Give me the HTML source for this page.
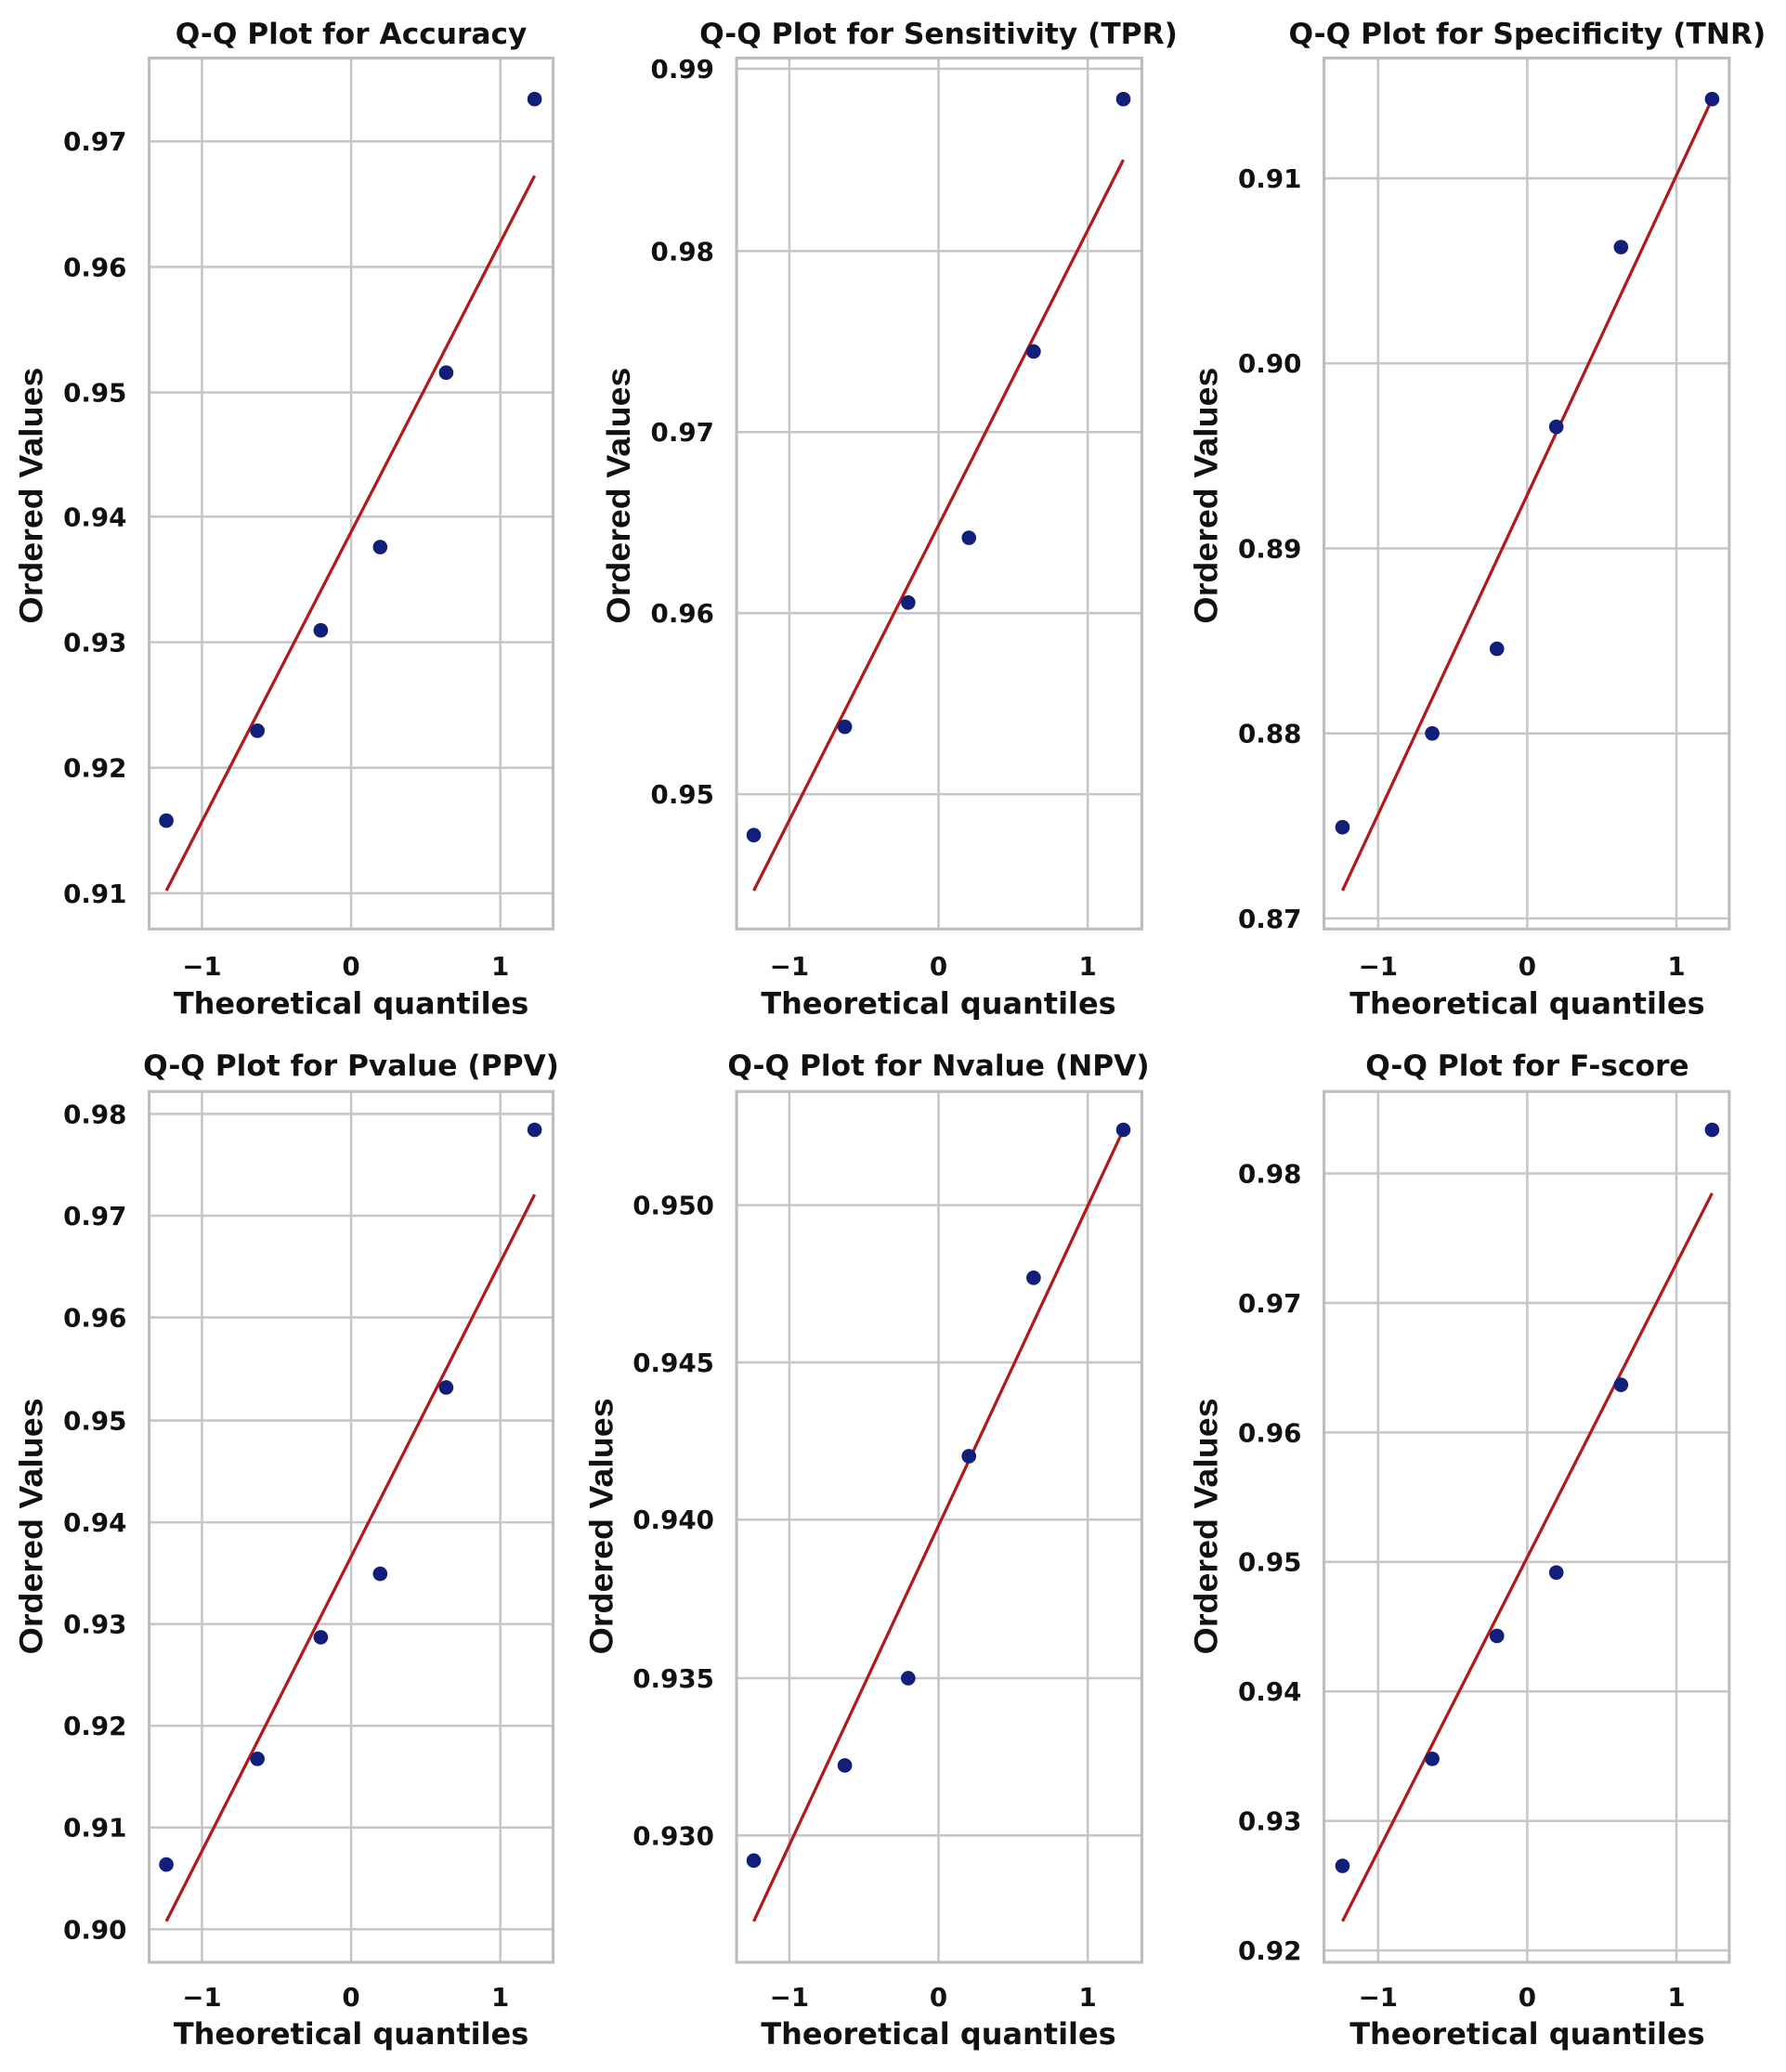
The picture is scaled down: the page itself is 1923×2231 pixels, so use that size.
<!DOCTYPE html>
<html><head><meta charset="utf-8"><style>
html,body{margin:0;padding:0;background:#fff}
svg{display:block}
.t{font-family:"DejaVu Sans","Liberation Sans",sans-serif;font-weight:bold;fill:#111}
.tk{font-size:19.5px;text-anchor:end}
.xt{font-size:19.5px;text-anchor:middle}
.ti{font-size:22px;text-anchor:middle}
.xl{font-size:22.5px;text-anchor:middle}
.yl{font-family:"Liberation Sans Narrow","Liberation Sans",sans-serif;font-weight:bold;font-size:25px;text-anchor:middle;fill:#111}
.g{stroke:#c6c6c6;stroke-width:1.8}
.sp{fill:none;stroke:#bdbdbd;stroke-width:2.2}
.ln{stroke:#b01a1a;stroke-width:2.3}
.pt{fill:#121f7a}
</style></head><body>
<svg width="1923" height="2231" viewBox="0 0 1353 1568" preserveAspectRatio="none" xmlns="http://www.w3.org/2000/svg">
<!-- Panel 1 -->
<g>
<line class="g" x1="153" y1="44" x2="153" y2="703"/><line class="g" x1="266" y1="44" x2="266" y2="703"/><line class="g" x1="379" y1="44" x2="379" y2="703"/>
<line class="g" x1="113" y1="107" x2="419" y2="107"/><line class="g" x1="113" y1="202" x2="419" y2="202"/><line class="g" x1="113" y1="297" x2="419" y2="297"/><line class="g" x1="113" y1="391" x2="419" y2="391"/><line class="g" x1="113" y1="486" x2="419" y2="486"/><line class="g" x1="113" y1="581" x2="419" y2="581"/><line class="g" x1="113" y1="676" x2="419" y2="676"/>
<rect class="sp" x="113" y="44" width="306" height="659"/>
<text class="t tk" x="96" y="114">0.97</text><text class="t tk" x="96" y="209">0.96</text><text class="t tk" x="96" y="304">0.95</text><text class="t tk" x="96" y="398">0.94</text><text class="t tk" x="96" y="493">0.93</text><text class="t tk" x="96" y="588">0.92</text><text class="t tk" x="96" y="683">0.91</text>
<line class="ln" x1="126" y1="674" x2="405" y2="133"/>
<circle class="pt" cx="126" cy="621" r="5.5"/><circle class="pt" cx="195" cy="553" r="5.5"/><circle class="pt" cx="243" cy="477" r="5.5"/><circle class="pt" cx="288" cy="414" r="5.5"/><circle class="pt" cx="338" cy="282" r="5.5"/><circle class="pt" cx="405" cy="75" r="5.5"/>
<text class="t xt" x="153" y="738">−1</text><text class="t xt" x="266" y="738">0</text><text class="t xt" x="379" y="738">1</text>
<text class="t xl" x="266" y="767">Theoretical quantiles</text>
<text class="t ti" x="266" y="33">Q-Q Plot for Accuracy</text>
<text class="yl" transform="translate(32,375) rotate(-90)" textLength="194" lengthAdjust="spacingAndGlyphs">Ordered Values</text>
</g>
<!-- Panel 2 -->
<g>
<line class="g" x1="598" y1="44" x2="598" y2="703"/><line class="g" x1="711" y1="44" x2="711" y2="703"/><line class="g" x1="824" y1="44" x2="824" y2="703"/>
<line class="g" x1="558" y1="52" x2="865" y2="52"/><line class="g" x1="558" y1="190" x2="865" y2="190"/><line class="g" x1="558" y1="327" x2="865" y2="327"/><line class="g" x1="558" y1="464" x2="865" y2="464"/><line class="g" x1="558" y1="601" x2="865" y2="601"/>
<rect class="sp" x="558" y="44" width="307" height="659"/>
<text class="t tk" x="541" y="59">0.99</text><text class="t tk" x="541" y="197">0.98</text><text class="t tk" x="541" y="334">0.97</text><text class="t tk" x="541" y="471">0.96</text><text class="t tk" x="541" y="608">0.95</text>
<line class="ln" x1="571" y1="674" x2="851" y2="121"/>
<circle class="pt" cx="571" cy="632" r="5.5"/><circle class="pt" cx="640" cy="550" r="5.5"/><circle class="pt" cx="688" cy="456" r="5.5"/><circle class="pt" cx="734" cy="407" r="5.5"/><circle class="pt" cx="783" cy="266" r="5.5"/><circle class="pt" cx="851" cy="75" r="5.5"/>
<text class="t xt" x="598" y="738">−1</text><text class="t xt" x="711" y="738">0</text><text class="t xt" x="824" y="738">1</text>
<text class="t xl" x="711" y="767">Theoretical quantiles</text>
<text class="t ti" x="711" y="33">Q-Q Plot for Sensitivity (TPR)</text>
<text class="yl" transform="translate(477,375) rotate(-90)" textLength="194" lengthAdjust="spacingAndGlyphs">Ordered Values</text>
</g>
<!-- Panel 3 -->
<g>
<line class="g" x1="1044" y1="44" x2="1044" y2="703"/><line class="g" x1="1157" y1="44" x2="1157" y2="703"/><line class="g" x1="1270" y1="44" x2="1270" y2="703"/>
<line class="g" x1="1003" y1="135" x2="1310" y2="135"/><line class="g" x1="1003" y1="275" x2="1310" y2="275"/><line class="g" x1="1003" y1="415" x2="1310" y2="415"/><line class="g" x1="1003" y1="555" x2="1310" y2="555"/><line class="g" x1="1003" y1="695" x2="1310" y2="695"/>
<rect class="sp" x="1003" y="44" width="307" height="659"/>
<text class="t tk" x="986" y="142">0.91</text><text class="t tk" x="986" y="282">0.90</text><text class="t tk" x="986" y="422">0.89</text><text class="t tk" x="986" y="562">0.88</text><text class="t tk" x="986" y="702">0.87</text>
<line class="ln" x1="1017" y1="674" x2="1297" y2="75"/>
<circle class="pt" cx="1017" cy="626" r="5.5"/><circle class="pt" cx="1085" cy="555" r="5.5"/><circle class="pt" cx="1134" cy="491" r="5.5"/><circle class="pt" cx="1179" cy="323" r="5.5"/><circle class="pt" cx="1228" cy="187" r="5.5"/><circle class="pt" cx="1297" cy="75" r="5.5"/>
<text class="t xt" x="1044" y="738">−1</text><text class="t xt" x="1157" y="738">0</text><text class="t xt" x="1270" y="738">1</text>
<text class="t xl" x="1157" y="767">Theoretical quantiles</text>
<text class="t ti" x="1157" y="33">Q-Q Plot for Specificity (TNR)</text>
<text class="yl" transform="translate(922,375) rotate(-90)" textLength="194" lengthAdjust="spacingAndGlyphs">Ordered Values</text>
</g>
<!-- Panel 4 -->
<g>
<line class="g" x1="153" y1="826" x2="153" y2="1485"/><line class="g" x1="266" y1="826" x2="266" y2="1485"/><line class="g" x1="379" y1="826" x2="379" y2="1485"/>
<line class="g" x1="113" y1="843" x2="419" y2="843"/><line class="g" x1="113" y1="920" x2="419" y2="920"/><line class="g" x1="113" y1="997" x2="419" y2="997"/><line class="g" x1="113" y1="1075" x2="419" y2="1075"/><line class="g" x1="113" y1="1152" x2="419" y2="1152"/><line class="g" x1="113" y1="1229" x2="419" y2="1229"/><line class="g" x1="113" y1="1306" x2="419" y2="1306"/><line class="g" x1="113" y1="1383" x2="419" y2="1383"/><line class="g" x1="113" y1="1460" x2="419" y2="1460"/>
<rect class="sp" x="113" y="826" width="306" height="659"/>
<text class="t tk" x="96" y="850">0.98</text><text class="t tk" x="96" y="927">0.97</text><text class="t tk" x="96" y="1004">0.96</text><text class="t tk" x="96" y="1082">0.95</text><text class="t tk" x="96" y="1159">0.94</text><text class="t tk" x="96" y="1236">0.93</text><text class="t tk" x="96" y="1313">0.92</text><text class="t tk" x="96" y="1390">0.91</text><text class="t tk" x="96" y="1467">0.90</text>
<line class="ln" x1="126" y1="1454" x2="405" y2="904"/>
<circle class="pt" cx="126" cy="1411" r="5.5"/><circle class="pt" cx="195" cy="1331" r="5.5"/><circle class="pt" cx="243" cy="1239" r="5.5"/><circle class="pt" cx="288" cy="1191" r="5.5"/><circle class="pt" cx="338" cy="1050" r="5.5"/><circle class="pt" cx="405" cy="855" r="5.5"/>
<text class="t xt" x="153" y="1518">−1</text><text class="t xt" x="266" y="1518">0</text><text class="t xt" x="379" y="1518">1</text>
<text class="t xl" x="266" y="1547">Theoretical quantiles</text>
<text class="t ti" x="266" y="814">Q-Q Plot for Pvalue (PPV)</text>
<text class="yl" transform="translate(32,1155) rotate(-90)" textLength="194" lengthAdjust="spacingAndGlyphs">Ordered Values</text>
</g>
<!-- Panel 5 -->
<g>
<line class="g" x1="598" y1="826" x2="598" y2="1485"/><line class="g" x1="711" y1="826" x2="711" y2="1485"/><line class="g" x1="824" y1="826" x2="824" y2="1485"/>
<line class="g" x1="558" y1="912" x2="865" y2="912"/><line class="g" x1="558" y1="1031" x2="865" y2="1031"/><line class="g" x1="558" y1="1150" x2="865" y2="1150"/><line class="g" x1="558" y1="1270" x2="865" y2="1270"/><line class="g" x1="558" y1="1389" x2="865" y2="1389"/>
<rect class="sp" x="558" y="826" width="307" height="659"/>
<text class="t tk" x="541" y="919">0.950</text><text class="t tk" x="541" y="1038">0.945</text><text class="t tk" x="541" y="1157">0.940</text><text class="t tk" x="541" y="1277">0.935</text><text class="t tk" x="541" y="1396">0.930</text>
<line class="ln" x1="571" y1="1454" x2="851" y2="855"/>
<circle class="pt" cx="571" cy="1408" r="5.5"/><circle class="pt" cx="640" cy="1336" r="5.5"/><circle class="pt" cx="688" cy="1270" r="5.5"/><circle class="pt" cx="734" cy="1102" r="5.5"/><circle class="pt" cx="783" cy="967" r="5.5"/><circle class="pt" cx="851" cy="855" r="5.5"/>
<text class="t xt" x="598" y="1518">−1</text><text class="t xt" x="711" y="1518">0</text><text class="t xt" x="824" y="1518">1</text>
<text class="t xl" x="711" y="1547">Theoretical quantiles</text>
<text class="t ti" x="711" y="814">Q-Q Plot for Nvalue (NPV)</text>
<text class="yl" transform="translate(464,1155) rotate(-90)" textLength="194" lengthAdjust="spacingAndGlyphs">Ordered Values</text>
</g>
<!-- Panel 6 -->
<g>
<line class="g" x1="1044" y1="826" x2="1044" y2="1485"/><line class="g" x1="1157" y1="826" x2="1157" y2="1485"/><line class="g" x1="1270" y1="826" x2="1270" y2="1485"/>
<line class="g" x1="1003" y1="888" x2="1310" y2="888"/><line class="g" x1="1003" y1="986" x2="1310" y2="986"/><line class="g" x1="1003" y1="1084" x2="1310" y2="1084"/><line class="g" x1="1003" y1="1182" x2="1310" y2="1182"/><line class="g" x1="1003" y1="1280" x2="1310" y2="1280"/><line class="g" x1="1003" y1="1378" x2="1310" y2="1378"/><line class="g" x1="1003" y1="1476" x2="1310" y2="1476"/>
<rect class="sp" x="1003" y="826" width="307" height="659"/>
<text class="t tk" x="986" y="895">0.98</text><text class="t tk" x="986" y="993">0.97</text><text class="t tk" x="986" y="1091">0.96</text><text class="t tk" x="986" y="1189">0.95</text><text class="t tk" x="986" y="1287">0.94</text><text class="t tk" x="986" y="1385">0.93</text><text class="t tk" x="986" y="1483">0.92</text>
<line class="ln" x1="1017" y1="1454" x2="1297" y2="903"/>
<circle class="pt" cx="1017" cy="1412" r="5.5"/><circle class="pt" cx="1085" cy="1331" r="5.5"/><circle class="pt" cx="1134" cy="1238" r="5.5"/><circle class="pt" cx="1179" cy="1190" r="5.5"/><circle class="pt" cx="1228" cy="1048" r="5.5"/><circle class="pt" cx="1297" cy="855" r="5.5"/>
<text class="t xt" x="1044" y="1518">−1</text><text class="t xt" x="1157" y="1518">0</text><text class="t xt" x="1270" y="1518">1</text>
<text class="t xl" x="1157" y="1547">Theoretical quantiles</text>
<text class="t ti" x="1157" y="814">Q-Q Plot for F-score</text>
<text class="yl" transform="translate(922,1155) rotate(-90)" textLength="194" lengthAdjust="spacingAndGlyphs">Ordered Values</text>
</g>
</svg>
</body></html>
